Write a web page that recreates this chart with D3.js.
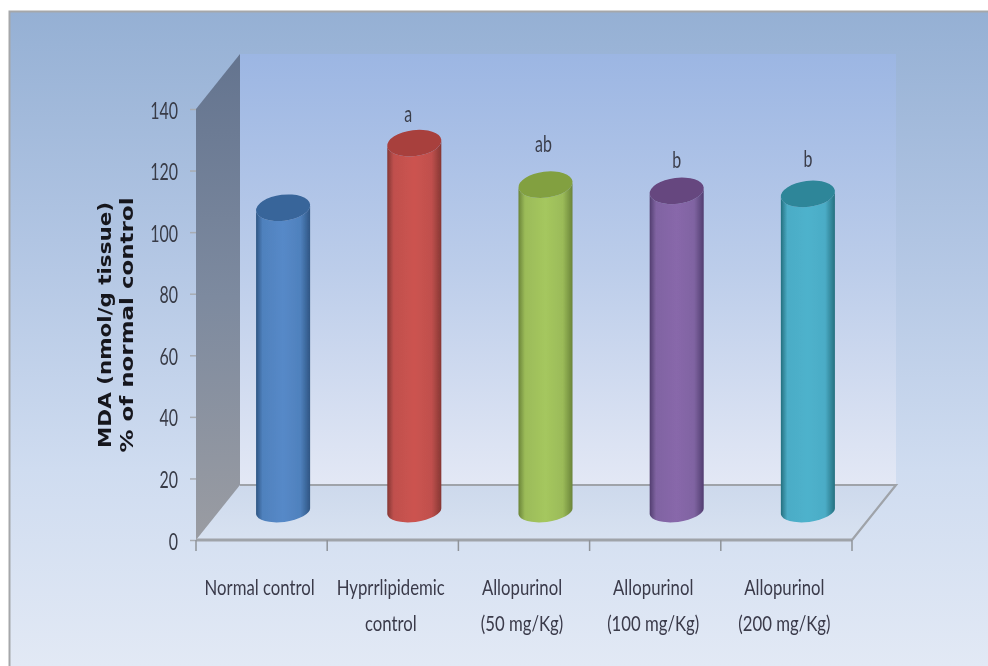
<!DOCTYPE html>
<html><head><meta charset="utf-8">
<script src="https://cdnjs.cloudflare.com/ajax/libs/d3/7.8.5/d3.min.js"></script>
<style>html,body{margin:0;padding:0;background:#fff}svg{display:block}</style>
</head><body><svg id="c" width="988" height="666"></svg>
<script>
const categories=[["Normal control"],["Hyprrlipidemic","control"],["Allopurinol","(50 mg/Kg)"],["Allopurinol","(100 mg/Kg)"],["Allopurinol","(200 mg/Kg)"]];
const values=[98.5,119.5,106,104,103];
const sigLabels=["","a","ab","b","b"];
const yTicks=[0,20,40,60,80,100,120,140];
const barColors=["#4f81bd","#c0504d","#9bbb59","#8064a2","#4bacc6"];
const barLight=["#5689c8","#cc5350","#a5c75e","#8867aa","#4eb2cc"];
const barDark=["#2e5583","#853734","#6a8439","#523e70","#24707f"];
const barTop=["#39659a","#a83f3c","#82a040","#66467f","#2f8699"];
const axisTitle=["MDA (nmol/g tissue)","% of normal control"];

const svg=d3.select("#c"),defs=svg.append("defs");
const x=d3.scaleBand().domain(d3.range(categories.length)).range([196,852]).padding(0.585).paddingOuter(0.2925);
const y=d3.scaleLinear().domain([0,140]).range([540,109]);
const depth=[44,-55],mid=[22,-29];

function grad(id,stops,h){
  const g=defs.append("linearGradient").attr("id",id);
  if(h)g.attr("x1",0).attr("x2",1).attr("y1",0).attr("y2",0);else g.attr("x1",0).attr("x2",0).attr("y1",0).attr("y2",1);
  stops.forEach(s=>g.append("stop").attr("offset",s[0]).attr("stop-color",s[1]));
}
grad("bg",[[0,"#95b0d4"],[0.35,"#b1c5e3"],[0.7,"#cfdcf0"],[1,"#e2e9f5"]]);
grad("wall",[[0,"#9cb6e3"],[0.5,"#bccdea"],[1,"#e3e8f5"]]);
grad("side",[[0,"#64748f"],[0.5,"#7d8a9f"],[1,"#9a9ca2"]]);
grad("floor",[[0,"#cdd9ec"],[1,"#d8e2f1"]]);
barColors.forEach((c,i)=>grad("cyl"+i,[[0,barDark[i]],[0.12,c],[0.5,barLight[i]],[0.82,c],[1,barDark[i]]],true));
const blur=defs.append("filter").attr("id","soft").attr("x","-10%").attr("y","-10%").attr("width","120%").attr("height","120%");
blur.append("feGaussianBlur").attr("stdDeviation",0.55);

svg.append("rect").attr("x",9).attr("y",11).attr("width",979).attr("height",655).attr("fill","url(#bg)");
svg.append("path").attr("d","M9.5,666V11.5H988").attr("fill","none").attr("stroke","#a5a7aa").attr("stroke-width",2).attr("filter","url(#soft)");

const x0=y.range()[0], L=x.range()[0],R=x.range()[1],T=y.range()[1];
const poly=d3.line();
svg.append("path").attr("d",poly([[L+depth[0],T+depth[1]],[R+depth[0],T+depth[1]],[R+depth[0],x0+depth[1]],[L+depth[0],x0+depth[1]]])+"Z").attr("fill","url(#wall)");
svg.append("path").attr("d",poly([[L,x0],[L+depth[0],x0+depth[1]],[R+depth[0],x0+depth[1]],[R,x0]])+"Z").attr("fill","url(#floor)");
svg.append("path").attr("d",poly([[L,T],[L+depth[0],T+depth[1]],[L+depth[0],x0+depth[1]],[L,x0]])+"Z").attr("fill","url(#side)");
const grid=svg.append("g").attr("filter","url(#soft)");
grid.append("path").attr("d",poly([[L+depth[0],x0+depth[1]],[R+depth[0],x0+depth[1]],[R,x0]])).attr("fill","none").attr("stroke","#9fa3a9").attr("stroke-width",2.2);
grid.append("line").attr("x1",L).attr("x2",R).attr("y1",x0).attr("y2",x0).attr("stroke","#9fa3a9").attr("stroke-width",3);

// y axis
const ya=svg.append("g").attr("transform",`translate(${L},0)`).call(d3.axisLeft(y).tickValues(yTicks).tickSize(6));
ya.select(".domain").remove();
ya.selectAll("line").attr("stroke","#a8acb2").attr("stroke-width",1.5);
ya.selectAll("text").attr("x",0).attr("dy",0).attr("transform","translate(-18,9) scale(.84,1.2)").attr("fill","#383b46").attr("font-family","Lato").attr("font-size",19).attr("filter","url(#soft)");

// x ticks
const edges=d3.range(categories.length+1).map(i=>L+i*x.step());
svg.append("g").selectAll("line").data(edges).join("line").attr("x1",d=>d).attr("x2",d=>d).attr("y1",x0).attr("y2",x0+11).attr("stroke","#8f9399").attr("stroke-width",1.5);

// cylinders
const rx=x.bandwidth()/2, ry=13, tilt=-7;
const sigGap=[0,21,33,23,27], sigShift=[0,-6,-2,0,0];
const ca=Math.cos(tilt*Math.PI/180),sa=Math.sin(tilt*Math.PI/180);
const bars=svg.append("g").selectAll("g").data(values).join("g").attr("filter","url(#soft)");
bars.each(function(v,i){
  const g=d3.select(this);
  const cx=x(i)+rx+mid[0]-0.5, yb=y(0)+mid[1], yt=y(v)+mid[1];
  const dx=rx*ca,dy=rx*sa;
  const d=`M${cx-dx},${yt-dy}L${cx-dx},${yb-dy}A${rx},${ry-2} ${tilt} 0 0 ${cx+dx},${yb+dy}L${cx+dx},${yt+dy}A${rx},${ry} ${tilt} 0 1 ${cx-dx},${yt-dy}Z`;
  g.append("path").attr("d",d).attr("fill",`url(#cyl${i})`);
  g.append("ellipse").attr("cx",cx).attr("cy",yt).attr("rx",rx).attr("ry",ry).attr("transform",`rotate(${tilt} ${cx} ${yt})`).attr("fill",barTop[i]);
  if(sigLabels[i])g.append("text").attr("transform",`translate(${cx+sigShift[i]},${yt-sigGap[i]}) scale(.84,1.25)`).attr("text-anchor","middle").attr("font-family","Lato").attr("font-size",19).attr("fill","#3a3d4a").text(sigLabels[i]);
});

// category labels
const lab=svg.append("g").attr("filter","url(#soft)");
categories.forEach((lines,i)=>{
  const cx=x(i)+rx-2;
  lines.forEach((s,j)=>lab.append("text").attr("transform",`translate(${cx},${595+j*36}) scale(.93,1.18)`).attr("text-anchor","middle").attr("font-family","Lato").attr("font-size",18).attr("fill","#3a3a4a").text(s));
});

// axis title
const titleStretch=[1.43,1.53];
const t=svg.append("g").attr("filter","url(#soft)");
axisTitle.forEach((s,i)=>t.append("text").attr("transform",`translate(${111+i*22},325) rotate(-90) scale(${titleStretch[i]},1.12)`).attr("text-anchor","middle").attr("font-family","DejaVu Sans").attr("font-weight","bold").attr("font-size",15).attr("fill","#15151c").text(s));
</script></body></html>
